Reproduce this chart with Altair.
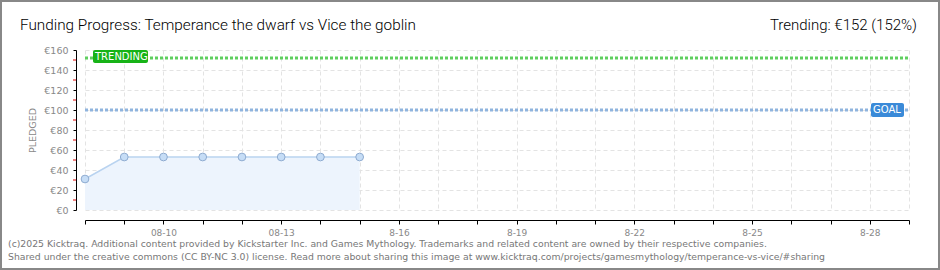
import altair as alt
import pandas as pd

# ---- data ----
days = [8, 9, 10, 11, 12, 13, 14, 15]          # day of August
pledged = [31, 53, 53, 53, 53, 53, 53, 53]     # EUR
goal = [100]
trending = [152]
minor_ticks = [10, 30, 50, 70, 90, 110, 130, 150]
tick_days = list(range(8, 30))
tick_labels = {10: "08-10", 13: "08-13", 16: "8-16", 19: "8-19",
               22: "8-22", 25: "8-25", 28: "8-28"}
y_ticks = [0, 20, 40, 60, 80, 100, 120, 140, 160]

title_left = "Funding Progress: Temperance the dwarf vs Vice the goblin"
title_right = "Trending: €152 (152%)"
footer = [
    "(c)2025 Kicktraq. Additional content provided by Kickstarter Inc. and Games Mythology. Trademarks and related content are owned by their respective companies.",
    "Shared under the creative commons (CC BY-NC 3.0) license. Read more about sharing this image at www.kicktraq.com/projects/gamesmythology/temperance-vs-vice/#sharing",
]

df = pd.DataFrame({"day": days, "pledged": pledged})
label_expr = "{" + ",".join(f"'{k}':'{v}'" for k, v in tick_labels.items()) + "}[datum.value] || ''"

W, H = 824, 160
PADL, PADT = 85, 50

xs = alt.Scale(domain=[8, 29], nice=False, zero=False)
ys = alt.Scale(domain=[0, 160], nice=False)

xaxis = alt.Axis(values=tick_days, labelExpr=label_expr, grid=True, gridColor="#e3e3e3",
                 gridDash=[4, 3], domainColor="#000", tickColor="#000", tickSize=4,
                 offset=10, labelColor="#888", labelFont="DejaVu Sans", labelFontSize=9,
                 labelPadding=4, title=None, labelFlush=False, labelOverlap=False)
yaxis = alt.Axis(values=y_ticks, labelExpr="'€' + datum.value", grid=True,
                 gridColor="#e3e3e3", gridDash=[4, 3], domainColor="#000", tickColor="#000",
                 tickSize=3, offset=9, labelColor="#888", labelFont="DejaVu Sans",
                 labelFontSize=9.5, labelPadding=5, title="PLEDGED", titleColor="#888",
                 titleFont="DejaVu Sans", titleFontSize=9.5, titleFontWeight="normal",
                 titlePadding=6, labelOverlap=False, labelFlush=False)


def X(f):
    return alt.X(f, scale=xs, axis=xaxis)


def Y(f):
    return alt.Y(f, scale=ys, axis=yaxis)


base = alt.Chart(df)

area = base.mark_area(color="#edf4fd", opacity=1).encode(x=X("day:Q"), y=Y("pledged:Q"))
line = base.mark_line(color="#b9d3f0", strokeWidth=1.5).encode(x=X("day:Q"), y=Y("pledged:Q"))
pts = base.mark_point(shape="circle", filled=True, size=60, fill="#c6ddf6",
                      stroke="#8eabd0", strokeWidth=1, opacity=1).encode(x=X("day:Q"), y=Y("pledged:Q"))

gdf = pd.DataFrame({"v": goal})
tdf = pd.DataFrame({"v": trending})
mdf = pd.DataFrame({"v": minor_ticks})

minor = alt.Chart(mdf).mark_rule(color="#e00000", strokeWidth=1).encode(
    y=Y("v:Q"), x=alt.value(-12), x2=alt.value(-9))

goal_rule = alt.Chart(gdf).mark_rule(color="#8fb4de", strokeWidth=3, strokeDash=[3, 2]).encode(
    y=Y("v:Q"), x=alt.value(0), x2=alt.value(W))
trend_rule = alt.Chart(tdf).mark_rule(color="#5fcf5f", strokeWidth=3, strokeDash=[3, 2]).encode(
    y=Y("v:Q"), x=alt.value(0), x2=alt.value(W))

trend_box = alt.Chart(tdf).mark_rect(color="#17b317", cornerRadius=2, yOffset=-8, y2Offset=5).encode(
    y=Y("v:Q"), y2="v:Q", x=alt.value(8), x2=alt.value(63))
trend_txt = alt.Chart(tdf).mark_text(text="TRENDING", color="white", font="DejaVu Sans",
                                     fontSize=10, align="left", baseline="middle", yOffset=-1.5).encode(
    y=Y("v:Q"), x=alt.value(10))
goal_box = alt.Chart(gdf).mark_rect(color="#3a8ad8", cornerRadius=2, yOffset=-7, y2Offset=7).encode(
    y=Y("v:Q"), y2="v:Q", x=alt.value(786), x2=alt.value(819))
goal_txt = alt.Chart(gdf).mark_text(text="GOAL", color="white", font="DejaVu Sans",
                                    fontSize=10, align="left", baseline="middle").encode(
    y=Y("v:Q"), x=alt.value(788))

t1 = alt.Chart(pd.DataFrame({"t": [title_left]})).mark_text(
    font="Roboto", fontSize=15.3, fontWeight=300, color="#000", align="left", baseline="alphabetic").encode(
    text="t:N", x=alt.value(20 - PADL), y=alt.value(30 - PADT))
t2 = alt.Chart(pd.DataFrame({"t": [title_right]})).mark_text(
    font="Roboto", fontSize=15, fontWeight=300, color="#000", align="right", baseline="alphabetic").encode(
    text="t:N", x=alt.value(917 - PADL), y=alt.value(30 - PADT))
f1 = alt.Chart(pd.DataFrame({"t": [footer[0]]})).mark_text(
    font="DejaVu Sans", fontSize=9.3, color="#777", align="left", baseline="alphabetic").encode(
    text="t:N", x=alt.value(8 - PADL), y=alt.value(247 - PADT))
f2 = alt.Chart(pd.DataFrame({"t": [footer[1]]})).mark_text(
    font="DejaVu Sans", fontSize=9.3, color="#777", align="left", baseline="alphabetic").encode(
    text="t:N", x=alt.value(8 - PADL), y=alt.value(260 - PADT))

border = alt.Chart(gdf).mark_rect(fill=None, stroke="#888", strokeWidth=2).encode(
    x=alt.value(1 - PADL), x2=alt.value(939 - PADL), y=alt.value(1 - PADT), y2=alt.value(269 - PADT))

chart = alt.layer(area, line, pts, minor, goal_rule, trend_rule, trend_box, trend_txt,
                  goal_box, goal_txt, t1, t2, f1, f2, border).properties(
    width=W, height=H,
    padding={"left": PADL, "top": PADT, "right": 940 - PADL - W, "bottom": 270 - PADT - H},
    autosize=alt.AutoSizeParams(type="none"),
    background="white",
).configure_view(stroke=None)

chart.save("out.html", embed_options={"renderer": "svg", "actions": False})
